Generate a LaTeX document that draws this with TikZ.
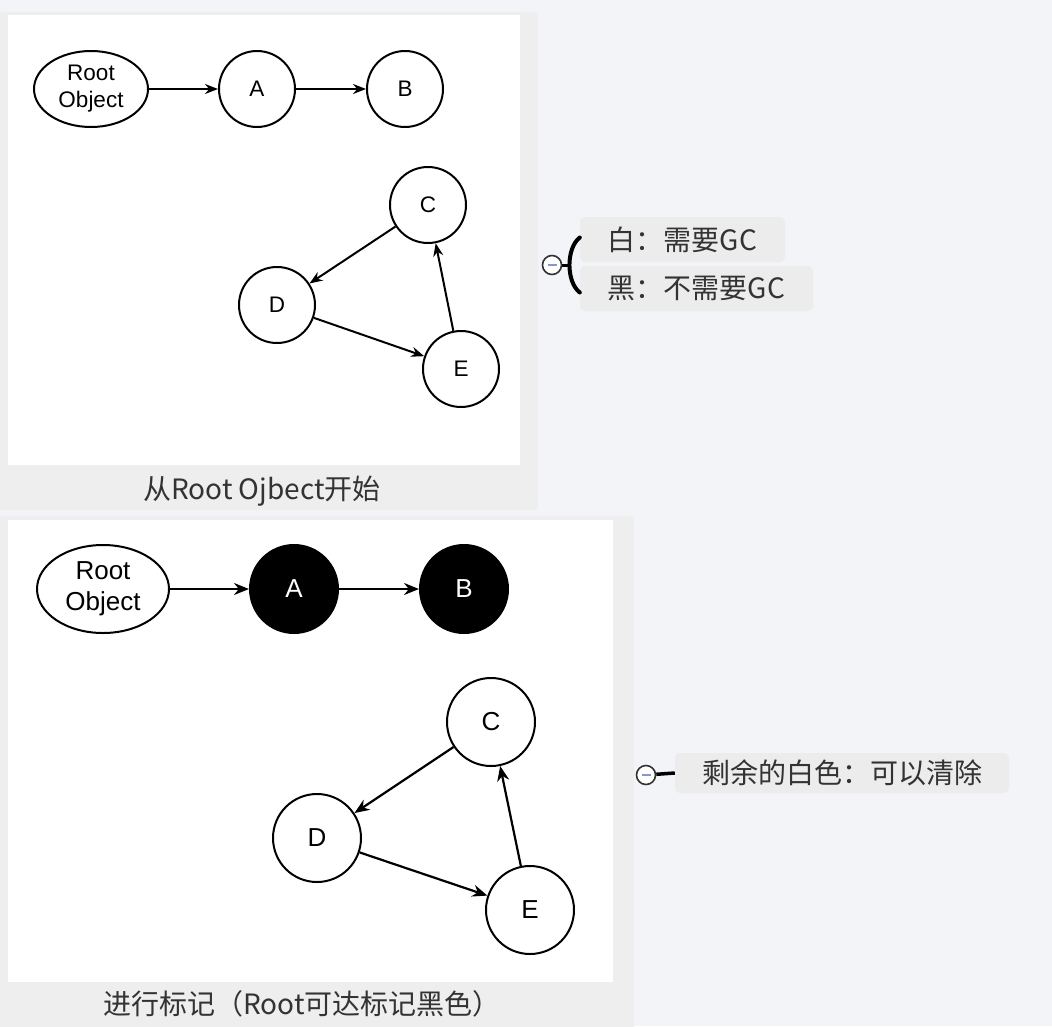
\documentclass[tikz,border=0pt]{standalone}
\usepackage{fontspec}
\setmainfont{Noto Sans CJK SC}
\newfontfamily\arialfont{Liberation Sans}
\usepackage{tikz}
\usetikzlibrary{shapes.geometric, arrows.meta, positioning}
\definecolor{pagebg}{HTML}{F3F4F8}
\definecolor{panelgray}{HTML}{EEEEEE}
\definecolor{topicgray}{HTML}{ECECEC}
\definecolor{inktext}{HTML}{333333}
\definecolor{foldmark}{HTML}{8A96C4}

\tikzset{
  objnode/.style={circle, draw=black, line width=2pt, fill=white, inner sep=0pt},
  rootnode/.style={ellipse, draw=black, line width=2pt, fill=white, inner sep=0pt, align=center},
  marked/.style={fill=black, text=white},
  ref/.style={-{Stealth[length=13pt,width=10pt]}, line width=2pt},
  bigref/.style={-{Stealth[length=15pt,width=12pt]}, line width=2.2pt},
  caption/.style={text=inktext, font=\fontsize{28}{32}\selectfont},
  topic/.style={fill=topicgray, rounded corners=5pt, text=inktext, font=\fontsize{28}{32}\selectfont, inner sep=0pt},
  foldbtn/.style={circle, draw=inktext, line width=1.6pt, fill=white, minimum size=19pt, inner sep=0pt}
}

\begin{document}
\begin{tikzpicture}[x=1pt, y=-1pt]
  \useasboundingbox (0,0) rectangle (1052,1026);
  \fill[pagebg] (0,0) rectangle (1052,1026);

  % first panel: start from the root
  \fill[panelgray, rounded corners=4pt] (-10,12) rectangle (538,510);
  \fill[white] (8,15) rectangle (520,465);
  \node[caption] (cap1) at (262,491) {从Root Ojbect开始};

  \begin{scope}[every node/.append style={font=\arialfont\fontsize{22.5}{27}\selectfont}]
    \node[rootnode, minimum width=114pt, minimum height=76pt] (root1) at (91,89) {Root\\Object};
    \node[objnode, minimum size=76pt] (a1) at (257,89) {A};
    \node[objnode, minimum size=76pt] (b1) at (405,89) {B};
    \node[objnode, minimum size=76pt] (c1) at (428,205) {C};
    \node[objnode, minimum size=76pt] (d1) at (277,305) {D};
    \node[objnode, minimum size=76pt] (e1) at (461,369) {E};
  \end{scope}
  \draw[ref] (root1) -- (a1);
  \draw[ref] (a1) -- (b1);
  \draw[ref] (c1) -- (d1);
  \draw[ref] (d1) -- (e1);
  \draw[ref] (e1) -- (c1);

  % second panel: after marking
  \fill[panelgray, rounded corners=4pt] (-10,516) rectangle (634,1040);
  \fill[white] (8,520) rectangle (613,982);
  \node[caption] (cap2) at (302,1004) {进行标记（Root可达标记黑色）};

  \begin{scope}[every node/.append style={font=\arialfont\fontsize{26}{31}\selectfont}]
    \node[rootnode, minimum width=132pt, minimum height=88pt] (root2) at (103,589) {Root\\Object};
    \node[objnode, marked, minimum size=88pt] (a2) at (294,589) {A};
    \node[objnode, marked, minimum size=88pt] (b2) at (464,589) {B};
    \node[objnode, minimum size=88pt] (c2) at (491,722) {C};
    \node[objnode, minimum size=88pt] (d2) at (317,838) {D};
    \node[objnode, minimum size=88pt] (e2) at (530,910) {E};
  \end{scope}
  \draw[bigref] (root2) -- (a2);
  \draw[bigref] (a2) -- (b2);
  \draw[bigref] (c2) -- (d2);
  \draw[bigref] (d2) -- (e2);
  \draw[bigref] (e2) -- (c2);

  % notes
  \node[topic, minimum width=205pt, minimum height=45pt] (whitenote) at (682.5,239.5) {白：需要GC};
  \node[topic, minimum width=233pt, minimum height=45pt] (blacknote) at (696.5,288.5) {黑：不需要GC};
  \node[foldbtn] (fold1) at (552,265) {};
  \draw[foldmark, line width=1.5pt] ([xshift=-4.5pt]fold1.center) -- ([xshift=4.5pt]fold1.center);
  \coordinate (brace) at (570,265);
  \draw[line width=3pt] (fold1) -- (brace);
  \draw[line width=4pt, line cap=round] ([yshift=2pt]whitenote.west) .. controls (566,248) and (566,282) .. ([yshift=-4pt]blacknote.west);

  \node[topic, minimum width=334pt, minimum height=40pt] (restnote) at (842,773) {剩余的白色：可以清除};
  \node[foldbtn] (fold2) at (646,775) {};
  \draw[foldmark, line width=1.5pt] ([xshift=-4.5pt]fold2.center) -- ([xshift=4.5pt]fold2.center);
  \draw[line width=3.5pt] (fold2) -- (restnote.west);
\end{tikzpicture}
\end{document}
